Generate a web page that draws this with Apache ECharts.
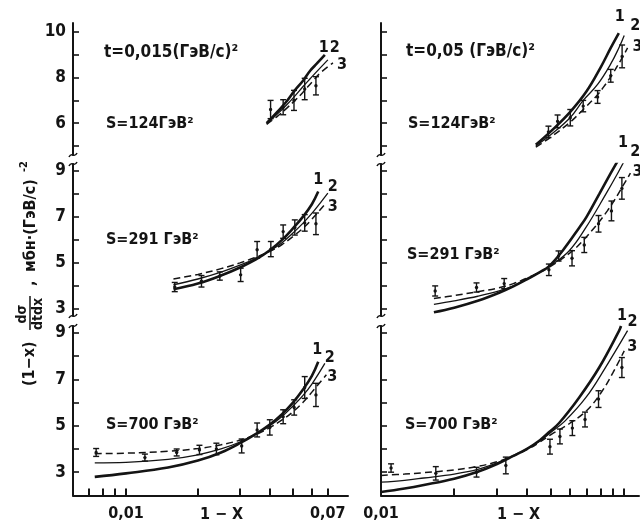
<!DOCTYPE html>
<html>
<head>
  <meta charset="utf-8">
</head>
<body style="margin: 0">
  <div id="chart" style="width: 640px; height: 523px"></div>
  <script src="https://cdn.jsdelivr.net/npm/echarts@6/dist/echarts.min.js"></script>
  <script>
    // axis ticks / labels
    const xTicksLeft = [0.007, 0.008, 0.009, 0.01, 0.02, 0.03, 0.04, 0.05, 0.06, 0.07];
    const xLabelsLeft = [0.01, 0.07];
    const xTicksRight = [0.02, 0.03, 0.04, 0.05, 0.06, 0.07, 0.08, 0.09, 0.1];
    const xLabelsRight = [0.01];
    const yTicksTop = [5, 6, 7, 8, 9, 10];
    const yLabelsTop = [6, 8, 10];
    const yTicksLow = [3, 4, 5, 6, 7, 8, 9];
    const yLabelsLow = [3, 5, 7, 9];

    const tTexts = ['t=0,015(ГэВ/с)²', 't=0,05 (ГэВ/с)²'];
    const sTexts = ['S=124ГэВ²', 'S=291 ГэВ²', 'S=700 ГэВ²'];

    // t = 0,015 column; curves [1-x, value], points [1-x, value, error]
    const l124_c1 = [[0.0388, 6.0], [0.043, 6.5], [0.047, 6.95], [0.051, 7.45], [0.055, 7.85], [0.059, 8.3], [0.063, 8.62], [0.068, 9.0]];
    const l124_c2 = [[0.0388, 5.98], [0.043, 6.4], [0.047, 6.8], [0.051, 7.2], [0.055, 7.6], [0.059, 7.95], [0.064, 8.35], [0.07, 8.78]];
    const l124_c3 = [[0.0388, 5.95], [0.043, 6.3], [0.047, 6.65], [0.051, 7.0], [0.055, 7.35], [0.06, 7.8], [0.065, 8.2], [0.0735, 8.65]];
    const l124_pts = [[0.0403, 6.6, 0.4], [0.0455, 6.7, 0.33], [0.0505, 7.0, 0.44], [0.056, 7.5, 0.47], [0.0624, 7.64, 0.4]];

    const l291_c1 = [[0.0158, 3.85], [0.02, 4.1], [0.025, 4.45], [0.03, 4.8], [0.035, 5.15], [0.04, 5.55], [0.045, 6.0], [0.05, 6.5], [0.055, 7.0], [0.06, 7.55], [0.0638, 8.1]];
    const l291_c2 = [[0.0158, 4.05], [0.02, 4.3], [0.025, 4.6], [0.03, 4.9], [0.035, 5.2], [0.04, 5.52], [0.045, 5.88], [0.05, 6.3], [0.055, 6.72], [0.06, 7.15], [0.065, 7.6], [0.07, 8.03]];
    const l291_c3 = [[0.0158, 4.3], [0.02, 4.5], [0.025, 4.75], [0.03, 5.0], [0.035, 5.25], [0.04, 5.5], [0.045, 5.8], [0.05, 6.15], [0.055, 6.5], [0.06, 6.9], [0.068, 7.55]];
    const l291_pts = [[0.016, 3.95, 0.2], [0.0207, 4.2, 0.25], [0.0247, 4.43, 0.18], [0.0302, 4.48, 0.29], [0.0354, 5.57, 0.36], [0.0404, 5.6, 0.33], [0.0455, 6.36, 0.29], [0.0509, 6.54, 0.33], [0.056, 6.74, 0.36], [0.0624, 6.7, 0.47]];

    const l700_c1 = [[0.0074, 2.8], [0.01, 2.95], [0.015, 3.2], [0.02, 3.5], [0.025, 3.85], [0.03, 4.25], [0.035, 4.65], [0.04, 5.05], [0.045, 5.5], [0.05, 6.0], [0.055, 6.55], [0.06, 7.15], [0.0638, 7.76]];
    const l700_c2 = [[0.0074, 3.4], [0.01, 3.42], [0.015, 3.55], [0.02, 3.75], [0.025, 4.0], [0.03, 4.3], [0.035, 4.65], [0.04, 5.0], [0.045, 5.4], [0.05, 5.85], [0.055, 6.3], [0.06, 6.8], [0.068, 7.69]];
    const l700_c3 = [[0.0074, 3.8], [0.01, 3.82], [0.015, 3.9], [0.02, 4.02], [0.025, 4.18], [0.03, 4.38], [0.035, 4.62], [0.04, 4.92], [0.045, 5.25], [0.05, 5.6], [0.055, 6.0], [0.06, 6.45], [0.069, 7.2]];
    const l700_pts = [[0.0075, 3.85, 0.17], [0.012, 3.63, 0.15], [0.0163, 3.85, 0.15], [0.0203, 3.96, 0.2], [0.0239, 4.0, 0.25], [0.0305, 4.13, 0.3], [0.0354, 4.82, 0.3], [0.04, 4.93, 0.33], [0.0455, 5.39, 0.3], [0.0506, 5.79, 0.33], [0.056, 6.65, 0.47], [0.0624, 6.33, 0.5]];

    // t = 0,05 column
    const r124_c1 = [[0.0433, 5.05], [0.05, 5.65], [0.06, 6.5], [0.07, 7.4], [0.08, 8.45], [0.088, 9.3], [0.095, 9.95]];
    const r124_c2 = [[0.0433, 5.0], [0.05, 5.5], [0.06, 6.25], [0.0678, 7.0], [0.0777, 7.7], [0.088, 8.6], [0.095, 9.3], [0.1, 9.85]];
    const r124_c3 = [[0.0433, 4.95], [0.05, 5.4], [0.06, 6.05], [0.0678, 6.6], [0.0777, 7.25], [0.0837, 7.7], [0.09, 8.2], [0.0966, 8.75], [0.1032, 9.3]];
    const r124_pts = [[0.0488, 5.62, 0.25], [0.0532, 6.08, 0.28], [0.06, 6.24, 0.36], [0.0678, 6.75, 0.25], [0.0777, 7.15, 0.28], [0.088, 8.08, 0.28], [0.098, 8.93, 0.5]];

    const r291_c1 = [[0.0165, 2.85], [0.02, 3.05], [0.025, 3.35], [0.0306, 3.7], [0.035, 3.98], [0.04, 4.3], [0.045, 4.6], [0.049, 4.85], [0.0557, 5.52], [0.0653, 6.53], [0.07, 7.0], [0.0789, 7.99], [0.088, 8.9], [0.096, 9.6]];
    const r291_c2 = [[0.0165, 3.2], [0.02, 3.35], [0.025, 3.55], [0.0306, 3.78], [0.035, 4.0], [0.04, 4.3], [0.045, 4.6], [0.049, 4.83], [0.0593, 5.52], [0.0695, 6.53], [0.084, 7.99], [0.094, 8.9], [0.102, 9.6]];
    const r291_c3 = [[0.0165, 3.45], [0.02, 3.58], [0.025, 3.75], [0.0306, 3.92], [0.035, 4.1], [0.04, 4.35], [0.045, 4.6], [0.049, 4.8], [0.06, 5.45], [0.0685, 6.03], [0.0852, 7.26], [0.1016, 8.57], [0.106, 8.9]];
    const r291_pts = [[0.0167, 3.78, 0.22], [0.0247, 3.93, 0.2], [0.0321, 4.1, 0.22], [0.049, 4.7, 0.25], [0.0537, 5.3, 0.22], [0.061, 5.2, 0.33], [0.0685, 5.78, 0.33], [0.0784, 6.7, 0.36], [0.0886, 7.26, 0.43], [0.0978, 8.24, 0.47]];

    const r700_c1 = [[0.01, 2.15], [0.0125, 2.3], [0.015, 2.45], [0.02, 2.72], [0.025, 3.02], [0.03, 3.35], [0.035, 3.7], [0.04, 4.02], [0.045, 4.38], [0.049, 4.72], [0.054, 5.12], [0.0653, 6.22], [0.0789, 7.51], [0.0952, 9.09], [0.097, 9.3]];
    const r700_c2 = [[0.01, 2.57], [0.0125, 2.65], [0.015, 2.75], [0.02, 2.92], [0.025, 3.12], [0.03, 3.4], [0.035, 3.72], [0.04, 4.02], [0.045, 4.35], [0.05, 4.72], [0.057, 5.2], [0.0696, 6.22], [0.0837, 7.51], [0.1032, 9.1]];
    const r700_c3 = [[0.01, 2.86], [0.0125, 2.92], [0.015, 2.98], [0.02, 3.1], [0.025, 3.25], [0.03, 3.45], [0.035, 3.7], [0.04, 3.98], [0.045, 4.3], [0.05, 4.62], [0.06, 5.12], [0.07, 5.65], [0.08, 6.4], [0.09, 7.3], [0.1, 8.23]];
    const r700_pts = [[0.011, 3.18, 0.18], [0.0168, 2.95, 0.29], [0.0247, 3.0, 0.21], [0.0326, 3.29, 0.36], [0.0495, 4.1, 0.32], [0.0544, 4.54, 0.32], [0.0612, 4.9, 0.32], [0.069, 5.27, 0.32], [0.0784, 6.15, 0.36], [0.0978, 7.51, 0.43]];

    // grid index = row * 2 + col
    const panelCurves = [
      [l124_c1, l124_c2, l124_c3], [r124_c1, r124_c2, r124_c3],
      [l291_c1, l291_c2, l291_c3], [r291_c1, r291_c2, r291_c3],
      [l700_c1, l700_c2, l700_c3], [r700_c1, r700_c2, r700_c3]
    ];
    const panelPoints = [l124_pts, r124_pts, l291_pts, r291_pts, l700_pts, r700_pts];

    const FONT = 'DejaVu Sans Condensed';
    const INK = '#141414';

    // where the "1 2 3" marks sit relative to each curve end
    const labelOffsets = [
      [[-6, -7], [2, -12], [4, 2]],
      [[-4, -16], [6, -10], [5, -1]],
      [[-5, -12], [0, -6], [3, 3]],
      [[-2, -14], [4, -5], [2, -1]],
      [[-6, -12], [0, -6], [1, 2]],
      [[-4, -10], [0, -9], [3, -4]]
    ];
    const lineStyles = [
      { width: 2.6, type: 'solid' },
      { width: 1.3, type: 'solid' },
      { width: 1.5, type: [7, 4] }
    ];

    const rows = [
      { top: 22.9, height: 132.2, min: 4.6, max: 10.4, ticks: yTicksTop, labels: yLabelsTop },
      { top: 164, height: 151.8, min: 2.7, max: 9.3, ticks: yTicksLow, labels: yLabelsLow },
      { top: 326, height: 169.4, min: 2, max: 9.3, ticks: yTicksLow, labels: yLabelsLow }
    ];
    const cols = [
      { left: 73, width: 275, min: 0.006, max: 0.085, ticks: xTicksLeft, labels: xLabelsLeft },
      { left: 381, width: 258, min: 0.01, max: 0.115, ticks: xTicksRight, labels: xLabelsRight }
    ];

    const grid = [], xAxis = [], yAxis = [], series = [];
    rows.forEach(function (row, r) {
      cols.forEach(function (col, c) {
        const i = r * 2 + c;
        grid.push({ left: col.left, top: row.top, width: col.width, height: row.height, containLabel: false, outerBoundsMode: 'none' });
        xAxis.push({
          type: 'log', logBase: 10, gridIndex: i, min: col.min, max: col.max,
          axisLine: { show: r === 2, onZero: false, lineStyle: { color: INK, width: 2 } },
          axisTick: { show: false },
          axisLabel: {
            show: r === 2, customValues: col.labels, margin: 10,
            fontFamily: FONT, fontSize: 16, fontWeight: 'bold', color: INK,
            formatter: function (v) { return Number(v).toFixed(2).replace('.', ','); }
          },
          splitLine: { show: false },
          minorTick: { show: false }
        });
        yAxis.push({
          type: 'value', gridIndex: i, min: row.min, max: row.max,
          axisLine: { show: true, onZero: false, lineStyle: { color: INK, width: 2 } },
          axisTick: { show: true, inside: true, length: 6, customValues: row.ticks, lineStyle: { color: INK, width: 1.6 } },
          axisLabel: {
            show: c === 0, customValues: row.labels, margin: 7,
            fontFamily: FONT, fontSize: 17, fontWeight: 'bold', color: INK
          },
          splitLine: { show: false }
        });

        panelCurves[i].forEach(function (curve, k) {
          const off = labelOffsets[i][k];
          series.push({
            type: 'line', xAxisIndex: i, yAxisIndex: i,
            data: curve, smooth: 0.4, showSymbol: false, symbol: 'none',
            lineStyle: { color: INK, width: lineStyles[k].width, type: lineStyles[k].type },
            endLabel: {
              show: true, formatter: String(k + 1), distance: 0, offset: off,
              fontFamily: FONT, fontSize: 16, fontWeight: 'bold', color: INK
            },
            z: 3
          });
        });

        series.push({
          type: 'custom', xAxisIndex: i, yAxisIndex: i,
          data: panelPoints[i],
          encode: { x: 0, y: 1 },
          renderItem: function (params, api) {
            const x = api.value(0), y = api.value(1), e = api.value(2);
            const top = api.coord([x, y + e]);
            const bot = api.coord([x, y - e]);
            const mid = api.coord([x, y]);
            const w = 3;
            const st = { stroke: INK, lineWidth: 1.4 };
            return {
              type: 'group',
              children: [
                { type: 'line', shape: { x1: top[0], y1: top[1], x2: bot[0], y2: bot[1] }, style: st },
                { type: 'line', shape: { x1: top[0] - w, y1: top[1], x2: top[0] + w, y2: top[1] }, style: st },
                { type: 'line', shape: { x1: bot[0] - w, y1: bot[1], x2: bot[0] + w, y2: bot[1] }, style: st },
                { type: 'circle', shape: { cx: mid[0], cy: mid[1], r: 1.7 }, style: { fill: INK } }
              ]
            };
          },
          z: 4
        });
      });
    });

    // decorations: texts, axis breaks, y title
    const txt = function (s, x, y, size) {
      return {
        type: 'text', x: x, y: y,
        style: { text: s, fontFamily: FONT, fontSize: size || 16, fontWeight: 'bold', fill: INK, textVerticalAlign: 'middle' }
      };
    };
    const graphic = [
      txt(tTexts[0], 104, 53, 17), txt(tTexts[1], 406, 52, 17),
      txt(sTexts[0], 106, 124), txt(sTexts[0], 408, 124),
      txt(sTexts[1], 106, 240), txt(sTexts[1], 407, 255),
      txt(sTexts[2], 106, 425), txt(sTexts[2], 405, 425),
      txt('1 − X', 200, 515), txt('1 − X', 497, 515)
    ];
    [73, 381].forEach(function (ax) {
      [155, 164, 316, 326].forEach(function (by) {
        graphic.push({
          type: 'bezierCurve',
          shape: { x1: ax - 4, y1: by + 2, cpx1: ax - 1, cpy1: by - 4, cpx2: ax + 1, cpy2: by + 4, x2: ax + 4, y2: by - 2 },
          style: { stroke: INK, lineWidth: 1.6, fill: null }
        });
      });
    });
    graphic.push({
      type: 'group', x: 30, y: 386, rotation: Math.PI / 2,
      children: [
        { type: 'text', x: 0, y: 0, style: { text: '(1−x)', fontFamily: FONT, fontSize: 16, fontWeight: 'bold', fill: INK, textVerticalAlign: 'middle' } },
        { type: 'text', x: 72, y: -8, style: { text: 'dσ', fontFamily: FONT, fontSize: 14, fontWeight: 'bold', fill: INK, textAlign: 'center', textVerticalAlign: 'middle' } },
        { type: 'line', shape: { x1: 56, y1: 0, x2: 90, y2: 0 }, style: { stroke: INK, lineWidth: 1.5 } },
        { type: 'text', x: 72, y: 8, style: { text: 'dtdx', fontFamily: FONT, fontSize: 14, fontWeight: 'bold', fill: INK, textAlign: 'center', textVerticalAlign: 'middle' } },
        { type: 'text', x: 100, y: 1, style: { text: ',', fontFamily: FONT, fontSize: 16, fontWeight: 'bold', fill: INK, textVerticalAlign: 'middle' } },
        { type: 'text', x: 114, y: 1, style: { text: 'мбн·(ГэВ/с)', fontFamily: FONT, fontSize: 16, fontWeight: 'bold', fill: INK, textVerticalAlign: 'middle' } },
        { type: 'text', x: 214, y: -6, style: { text: '-2', fontFamily: FONT, fontSize: 11, fontWeight: 'bold', fill: INK, textVerticalAlign: 'middle' } }
      ]
    });

    const chart = echarts.init(document.getElementById('chart'), null, { renderer: 'canvas' });
    chart.setOption({
      backgroundColor: '#fff',
      animation: false,
      textStyle: { fontFamily: FONT, color: INK },
      grid: grid,
      xAxis: xAxis,
      yAxis: yAxis,
      series: series,
      graphic: graphic
    });

    // x-axis ticks of the bottom panels, placed through each panel's log scale
    cols.forEach(function (col, c) {
      const gi = 4 + c;
      const yBase = chart.convertToPixel({ yAxisIndex: gi }, rows[2].min);
      col.ticks.forEach(function (v) {
        const x = chart.convertToPixel({ xAxisIndex: gi }, v);
        if (isFinite(x) && isFinite(yBase)) {
          graphic.push({
            type: 'rect', z: 100,
            shape: { x: Math.round(x) - 1, y: yBase - 7, width: 2, height: 7 },
            style: { fill: INK }
          });
        }
      });
    });
    chart.setOption({ graphic: graphic });
  </script>
</body>
</html>
